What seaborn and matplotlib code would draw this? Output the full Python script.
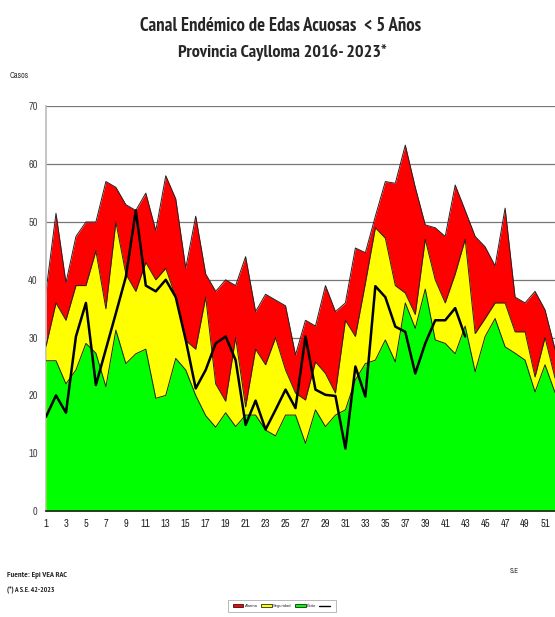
import numpy as np
import pandas as pd
import matplotlib
matplotlib.use("Agg")
import matplotlib.pyplot as plt
from matplotlib import font_manager
from matplotlib.font_manager import FontProperties
from matplotlib.patches import Patch
from matplotlib.lines import Line2D
import seaborn as sns

weeks = list(range(1, 53))
alarma = [38, 51.5, 39.5, 47.5, 50, 50, 57, 56, 53, 52, 55, 48.5, 58, 54, 42, 51, 41, 38,
          40, 39, 44, 34.5, 37.5, 36.5, 35.5, 27, 33, 32, 39, 34.5, 36, 45.5, 44.7, 51,
          57, 56.7, 63.3, 56, 49.5, 49, 47.5, 56.4, 52, 47.5, 45.7, 42.4, 52.4, 37, 36,
          38, 34.8, 28]
seguridad = [28.5, 36, 33, 39, 39, 45, 35, 50, 41, 38, 43, 40, 42, 37, 29.5, 28, 37, 22,
             19, 30, 18, 28, 25.3, 30, 24.4, 20.4, 19.2, 25.8, 23.8, 20.4, 33, 30.2, 39.4,
             49, 47.2, 39, 37.7, 34, 47, 40, 36, 41, 47, 30.7, 33.3, 36, 36, 31, 31, 23.2,
             30, 23]
exito = [26, 26, 22, 24.4, 29, 27.3, 21.5, 31.3, 25.5, 27.2, 28, 19.5, 20, 26.4, 24.4, 20,
         16.5, 14.5, 17, 14.6, 16.6, 16.6, 14, 13, 16.6, 16.6, 11.7, 17.5, 14.6, 16.6, 17.5,
         22.7, 25.5, 26.1, 29.6, 25.8, 36, 31.6, 38.4, 29.6, 29, 27.2, 32, 24.1, 30.2, 33.3,
         28.4, 27.3, 26.1, 20.6, 25.3, 20.5]
weeks_2023 = list(range(1, 44))
casos_2023 = [16.3, 20, 17, 30.2, 36, 21.8, 28, 34.2, 40.5, 52, 39, 38, 40, 37, 29.6, 21.2,
              24.4, 29, 30.2, 26.1, 14.9, 19.1, 14.1, 17.5, 21, 17.8, 30.2, 21, 20.1, 19.9,
              10.8, 25, 19.8, 38.9, 37, 31.9, 31, 23.8, 29, 33, 33, 35.1, 30.2]
y_ticks = list(range(0, 80, 10))

df = pd.DataFrame({"week": weeks, "Alarma": alarma, "Seguridad": seguridad, "Éxito": exito})
df23 = pd.DataFrame({"week": weeks_2023, "casos": casos_2023})

sns.set_style("white")
plt.rcParams["font.family"] = ["Liberation Sans", "DejaVu Sans"]


def _wnum(w):
    if isinstance(w, (int, float)):
        return w
    return {"bold": 700, "heavy": 800, "black": 900, "semibold": 600, "demibold": 600,
            "normal": 400, "regular": 400, "medium": 500, "light": 300}.get(str(w), 400)


def find_condensed(bold):
    cands = []
    for f in font_manager.fontManager.ttflist:
        name = f.name
        is_c = (str(f.stretch) in ("condensed", "semi-condensed", "extra-condensed")
                or "Narrow" in name or "Condensed" in name or "Cond" in f.fname)
        if not is_c or f.style != "normal":
            continue
        w = _wnum(f.weight)
        if bold and w < 600:
            continue
        if not bold and not (350 <= w <= 500):
            continue
        pri = 0 if "Narrow" in name else (1 if "Liberation" in name or "Arial" in name else 2)
        cands.append((pri, abs(w - (700 if bold else 400)), f.fname))
    if cands:
        cands.sort()
        return FontProperties(fname=cands[0][2])
    return None


fp_bold = find_condensed(True) or FontProperties(family=["Liberation Sans", "DejaVu Sans"],
                                                   weight="bold")
fp_reg = find_condensed(False) or FontProperties(family=["Liberation Sans", "DejaVu Sans"])

W, H = 555, 617
fig = plt.figure(figsize=(W / 100, H / 100), dpi=100)
x0, x1 = 46, 555
y0, y1 = 511, 106.4
ax = fig.add_axes([x0 / W, 1 - y0 / H, (x1 - x0) / W, (y0 - y1) / H])

colors = {"Alarma": "#FF0000", "Seguridad": "#FFFF00", "Éxito": "#00FF00"}
for i, key in enumerate(["Alarma", "Seguridad", "Éxito"]):
    ax.fill_between(df["week"], 0, df[key], color=colors[key], lw=0, zorder=2 + i)
    sns.lineplot(data=df, x="week", y=key, ax=ax, color="#222222", lw=0.7, zorder=2.5 + i,
                 legend=False)
sns.lineplot(data=df23, x="week", y="casos", ax=ax, color="black", lw=1.8, zorder=10,
             legend=False)

ax.set_xlim(1, 1 + (x1 - x0) / 10.07)
ax.set_ylim(0, 70)
ax.set_yticks(y_ticks)
ax.set_yticklabels([str(v) for v in y_ticks])
ax.set_xticks(range(1, 53))
ax.set_xticklabels([str(w) if w % 2 == 1 else "" for w in range(1, 53)])
ax.tick_params(axis="x", length=3, width=0.6, color="#555555", labelsize=7.5, pad=3,
               labelcolor="#222222")
ax.tick_params(axis="y", length=0, labelsize=7.5, pad=6, labelcolor="#444444")
for lab in ax.get_xticklabels() + ax.get_yticklabels():
    lab.set_fontproperties(fp_reg)
    lab.set_fontsize(7.5)
ax.set_xlabel("")
ax.set_ylabel("")
for yv in y_ticks[1:]:
    ax.axhline(yv, color="#777777", lw=0.9, zorder=1)
for s in ["top", "right"]:
    ax.spines[s].set_visible(False)
ax.spines["left"].set_color("#BBBBBB")
ax.spines["left"].set_linewidth(1.2)
ax.spines["bottom"].set_color("#222222")
ax.spines["bottom"].set_linewidth(1.2)
ax.spines["bottom"].set_zorder(20)

renderer = fig.canvas.get_renderer()


def fit_text(t, target_w, max_fs):
    bb = t.get_window_extent(renderer)
    fs = t.get_fontsize() * target_w / bb.width
    t.set_fontsize(min(fs, max_fs))


t1 = fig.text(281 / W, 1 - 26 / H, "Canal Endémico de Edas Acuosas  < 5 Años", ha="center",
              va="center", fontproperties=fp_bold, fontsize=14)
fit_text(t1, 281, 15)
t2 = fig.text(282 / W, 1 - 53 / H, "Provincia Caylloma 2016- 2023*", ha="center",
              va="center", fontproperties=fp_bold, fontsize=14)
fit_text(t2, 210, 15)
t3 = fig.text(10 / W, 1 - 75 / H, "Casos", ha="left", va="center", fontproperties=fp_reg,
              fontsize=6, color="#333333")
fit_text(t3, 19, 7)
t4 = fig.text(7 / W, 1 - 575 / H, "Fuente: Epi VEA RAC", ha="left", va="center",
              fontproperties=fp_bold, fontsize=7)
fit_text(t4, 60, 8)
t5 = fig.text(7 / W, 1 - 591 / H, "(*) A S.E. 42-2023", ha="left", va="center",
              fontproperties=fp_bold, fontsize=7)
fit_text(t5, 48, 8)
t6 = fig.text(510 / W, 1 - 571 / H, "S.E", ha="left", va="center", fontproperties=fp_reg,
              fontsize=6.5)
fit_text(t6, 9, 7)

handles = [Patch(facecolor=colors["Alarma"], edgecolor="black", lw=0.5),
           Patch(facecolor=colors["Seguridad"], edgecolor="black", lw=0.5),
           Patch(facecolor=colors["Éxito"], edgecolor="black", lw=0.5),
           Line2D([], [], color="black", lw=1)]
leg = fig.legend(handles, ["Alarma", "Seguridad", "Éxito", ""], loc="center",
                 bbox_to_anchor=(282 / W, 1 - 606 / H), ncol=4, fontsize=3,
                 frameon=True, fancybox=False, edgecolor="#999999", handlelength=2.6,
                 handleheight=0.8, columnspacing=0.8, handletextpad=0.3,
                 borderpad=1.0)
leg.get_frame().set_linewidth(0.6)

fig.savefig("out.png", dpi=100)
